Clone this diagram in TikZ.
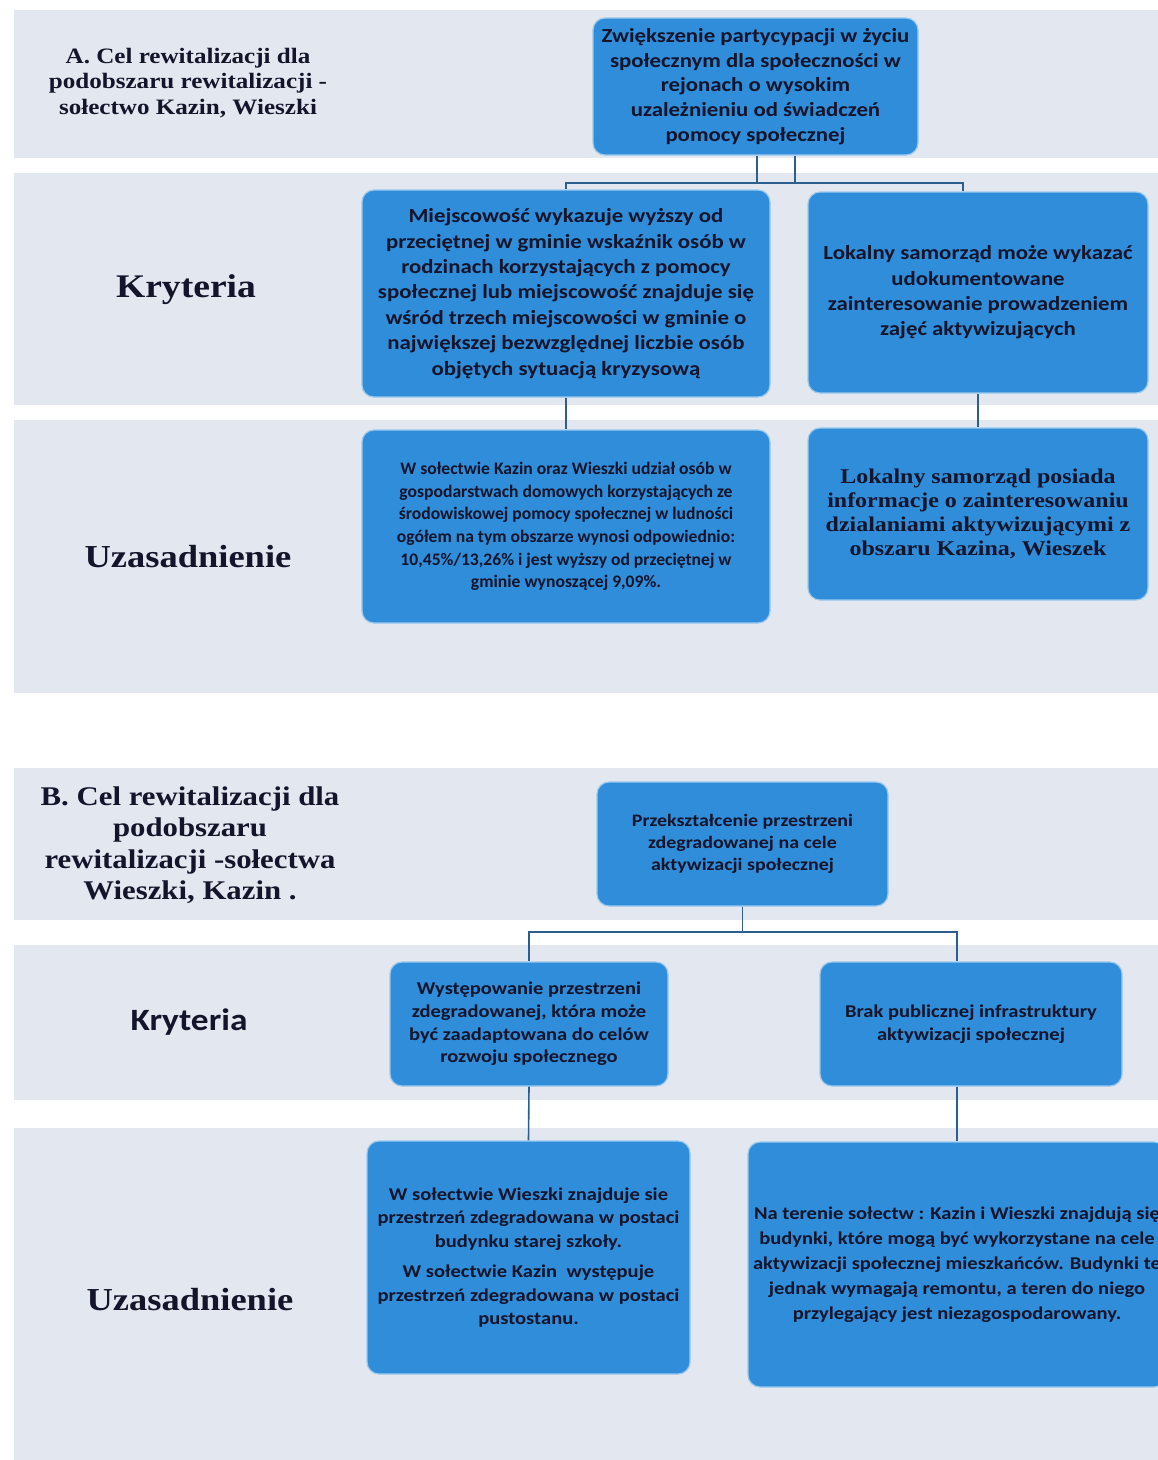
\documentclass[tikz,border=0pt]{standalone}
\usepackage{fontspec}
\setmainfont{Liberation Serif}
\newfontfamily\calfont{Carlito}
\newfontfamily\calw[FakeStretch=1.14]{Carlito}
\newfontfamily\serw[FakeStretch=1.14]{Liberation Serif}
\definecolor{boxblue}{HTML}{2F8DDA}
\definecolor{boxedge}{HTML}{9CC9EE}
\definecolor{txt}{HTML}{14142A}
\definecolor{bandc}{HTML}{E3E7EF}
\definecolor{connc}{HTML}{2C5F8E}
\tikzset{
  bx/.style={fill=boxblue, draw=boxedge, line width=1.2pt, rounded corners=12pt,
    inner sep=0pt, align=center, text=txt},
  lab/.style={align=center, text=txt, inner sep=0pt},
  conn/.style={draw=connc, line width=1.6pt},
  band/.style={fill=bandc}
}
\begin{document}
\begin{tikzpicture}[x=1pt,y=-1pt]
\clip (0,0) rectangle (1158,1460);
\fill[white] (0,0) rectangle (1158,1460);
% bands
\fill[band] (14,10) rectangle (1158,158);
\fill[band] (14,173) rectangle (1158,405);
\fill[band] (14,420) rectangle (1158,693);
\fill[band] (14,768) rectangle (1158,920);
\fill[band] (14,945) rectangle (1158,1100);
\fill[band] (14,1128) rectangle (1158,1460);

% left labels
\node[lab, font=\serw\bfseries\fontsize{22}{25.5}\selectfont] (la) at (188,83)
  {A. Cel rewitalizacji dla\\podobszaru rewitalizacji -\\sołectwo Kazin, Wieszki};
\node[lab, font=\serw\bfseries\fontsize{33}{36}\selectfont] (lk1) at (186,290) {Kryteria};
\node[lab, font=\serw\bfseries\fontsize{32}{34}\selectfont] (lu1) at (188,557) {Uzasadnienie};
\node[lab, font=\serw\bfseries\fontsize{27}{31.5}\selectfont] (lb) at (190,845)
  {B. Cel rewitalizacji dla\\podobszaru\\rewitalizacji -sołectwa\\Wieszki, Kazin .};
\node[lab, font=\calw\bfseries\fontsize{31}{33}\selectfont] (lk2) at (189,1022) {Kryteria};
\node[lab, font=\serw\bfseries\fontsize{32}{34}\selectfont] (lu2) at (190,1300) {Uzasadnienie};

% section A boxes
\node[bx, minimum width=325pt, minimum height=137pt,
  font=\calw\bfseries\fontsize{20}{24.6}\selectfont] (atop) at (755.5,86.5)
  {Zwiększenie partycypacji w życiu\\społecznym dla społeczności w\\rejonach o wysokim\\uzależnieniu od świadczeń\\pomocy społecznej};
\node[bx, minimum width=408pt, minimum height=207pt,
  font=\calw\bfseries\fontsize{20}{25.4}\selectfont] (acl) at (566,293.5)
  {Miejscowość wykazuje wyższy od\\przeciętnej w gminie wskaźnik osób w\\rodzinach korzystających z pomocy\\społecznej lub miejscowość znajduje się\\wśród trzech miejscowości w gminie o\\największej bezwzględnej liczbie osób\\objętych sytuacją kryzysową};
\node[bx, minimum width=340pt, minimum height=201pt,
  font=\calw\bfseries\fontsize{20}{25.3}\selectfont] (acr) at (978,292.5)
  {Lokalny samorząd może wykazać\\udokumentowane\\zainteresowanie prowadzeniem\\zajęć aktywizujących};
\node[bx, minimum width=408pt, minimum height=193pt,
  font=\calfont\bfseries\fontsize{17.6}{22.6}\selectfont] (aul) at (566,526.5)
  {W sołectwie Kazin oraz Wieszki udział osób w\\gospodarstwach domowych korzystających ze\\środowiskowej pomocy społecznej w ludności\\ogółem na tym obszarze wynosi odpowiednio:\\10,45\%/13,26\% i jest wyższy od przeciętnej w\\gminie wynoszącej 9,09\%.};
\node[bx, minimum width=340pt, minimum height=172pt,
  font=\serw\bfseries\fontsize{21}{24}\selectfont] (aur) at (978,514)
  {Lokalny samorząd posiada\\informacje o zainteresowaniu\\dzialaniami aktywizującymi z\\obszaru Kazina, Wieszek};

% section A connectors
\coordinate (abus) at (760,183);
\coordinate (arj) at (963,183);
\draw[conn] ([xshift=1.5pt]atop.south) -- ([xshift=1.5pt]atop.south |- abus);
\draw[conn] ([xshift=39.5pt]atop.south) -- ([xshift=39.5pt]atop.south |- abus);
\draw[conn] (acl.north) -- (acl.north |- abus) -- (arj) -- (arj |- acr.north);
\draw[conn] (acl.south) -- (aul.north);
\draw[conn] (acr.south) -- (aur.north);

% section B boxes
\node[bx, minimum width=291pt, minimum height=124pt,
  font=\calw\bfseries\fontsize{17.5}{22}\selectfont] (btop) at (742.5,844)
  {Przekształcenie przestrzeni\\zdegradowanej na cele\\aktywizacji społecznej};
\node[bx, minimum width=278pt, minimum height=124pt,
  font=\calw\bfseries\fontsize{18}{22.7}\selectfont] (bcl) at (529,1024)
  {Występowanie przestrzeni\\zdegradowanej, która może\\być zaadaptowana do celów\\rozwoju społecznego};
\node[bx, minimum width=302pt, minimum height=124pt,
  font=\calw\bfseries\fontsize{18}{22.7}\selectfont] (bcr) at (971,1024)
  {Brak publicznej infrastruktury\\aktywizacji społecznej};
\node[bx, minimum width=323pt, minimum height=233pt,
  font=\calw\bfseries\fontsize{18}{23.5}\selectfont] (bul) at (528.5,1257.5)
  {W sołectwie Wieszki znajduje sie\\przestrzeń zdegradowana w postaci\\budynku starej szkoły.\\[7pt]W sołectwie Kazin\ \ występuje\\przestrzeń zdegradowana w postaci\\pustostanu.};
\node[bx, minimum width=418pt, minimum height=245pt,
  font=\calw\bfseries\fontsize{18}{25}\selectfont] (bur) at (957,1264.5)
  {Na terenie sołectw : Kazin i Wieszki znajdują się\\budynki, które mogą być wykorzystane na cele\\aktywizacji społecznej mieszkańców. Budynki te\\jednak wymagają remontu, a teren do niego\\przylegający jest niezagospodarowany.};

% section B connectors
\coordinate (bbus) at (743,932);
\draw[conn] (btop.south) -- (btop.south |- bbus);
\draw[conn] (bcl.north) -- (bcl.north |- bbus) -- (bbus -| bur.north) -- (bur.north |- bcr.north);
\draw[conn] (bcl.south) -- (bul.north);
\draw[conn] (bur.north |- bcr.south) -- (bur.north);
\end{tikzpicture}
\end{document}
